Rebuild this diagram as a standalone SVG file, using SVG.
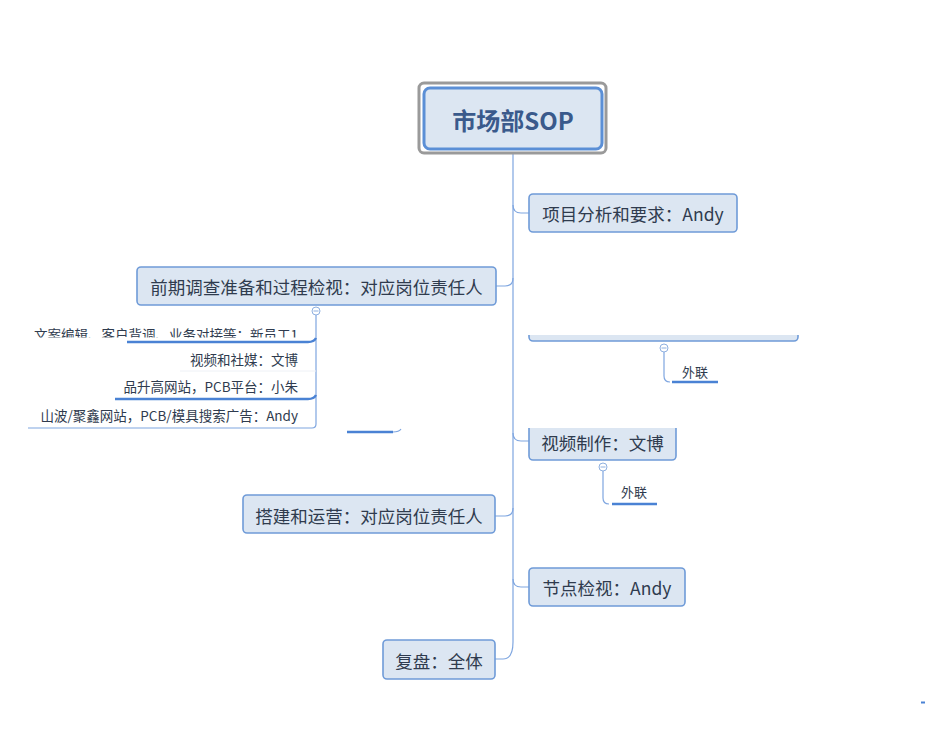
<svg xmlns="http://www.w3.org/2000/svg" width="926" height="752" viewBox="0 0 926 752">
<style>
.node{fill:#dce6f2;stroke:#6f9bd8;stroke-width:1.6}
.t{font-family:"Noto Sans CJK SC","Microsoft YaHei",sans-serif;font-size:17.5px;fill:#2f3b4e;dominant-baseline:central;text-anchor:middle}
.s{font-family:"Noto Sans CJK SC",sans-serif;font-size:13.5px;fill:#2f3b4e;text-anchor:end}
.c{fill:none;stroke:#7fa6e0;stroke-width:1.2}
.u{fill:none;stroke:#4a82d4;stroke-width:2.4}
.col{fill:#fff;stroke:#8fb0e0;stroke-width:1}
</style>
<defs>
<clipPath id="clipRow1"><rect x="0" y="300" width="330" height="37.5"/></clipPath>
<clipPath id="clipBox"><rect x="520" y="335" width="290" height="13"/></clipPath>
<clipPath id="clipVid"><rect x="520" y="428" width="170" height="40"/></clipPath>
</defs>
<rect width="926" height="752" fill="#fff"/>
<g id="connectors">
<path class="c" d="M513 154 V642 Q513 659 503 659 H495"/>
<path class="c" d="M513 205 Q513 213 521 213 H529"/>
<path class="c" d="M513 278 Q513 286 505 286 H496"/>
<path class="c" d="M513 433 Q513 441 521 441 H529"/>
<path class="c" d="M513 508 Q513 516 505 516 H495"/>
<path class="c" d="M513 579 Q513 587 521 587 H529"/>
<path class="c" d="M316 315 V424 Q316 428 312 428 H28"/>
<path class="c" d="M664 352 V376 Q664 382 670 382"/>
<path class="c" d="M603 471 V498 Q603 504 609 504"/>
<path d="M180 371 H316" stroke="#eef1f6" stroke-width="1"/>
<path class="u" d="M127 342 H308 Q314 342 316 338"/>
<path class="u" d="M115 399 H308 Q314 399 316 395"/>
<path class="u" d="M672 382 H718"/>
<path class="u" d="M612 504 H657"/>
<path class="u" d="M347 432 H393"/>
<path class="c" d="M393 432 Q399 432 401 429"/>
<path d="M921 702.5 H925" stroke="#4a82d4" stroke-width="2"/>
</g>
<g id="central">
<rect x="419" y="83" width="187" height="70" rx="5" fill="#fff" stroke="#9a9a9a" stroke-width="3"/>
<rect x="424" y="88" width="178" height="61" rx="6" fill="#dce6f2" stroke="#5b8fd6" stroke-width="3"/>
<text x="513" y="119" style="font-family:'Noto Sans CJK SC',sans-serif;font-size:24px;font-weight:bold;fill:#3a5a8c;dominant-baseline:central;text-anchor:middle">市场部SOP</text>
</g>
<g id="n1"><rect class="node" x="529" y="194" width="208" height="38" rx="4"/><text class="t" x="633" y="213">项目分析和要求：Andy</text></g>
<g id="n2"><rect class="node" x="137" y="267" width="359" height="38" rx="4"/><text class="t" x="316.5" y="286">前期调查准备和过程检视：对应岗位责任人</text>
<circle class="col" cx="316" cy="311" r="4"/><path d="M313.5 311 H318.5" stroke="#8fb0e0" stroke-width="1"/></g>
<g id="n2a" clip-path="url(#clipRow1)"><text class="s" x="298" y="340">文案编辑、客户背调、业务对接等：新员工1</text></g>
<g id="n2b"><text class="s" x="298" y="365">视频和社媒：文博</text></g>
<g id="n2c"><text class="s" x="298" y="392">品升高网站，PCB平台：小朱</text></g>
<g id="n2d"><text class="s" x="298" y="421">山波/聚鑫网站，PCB/模具搜索广告：Andy</text></g>
<g id="n3"><g clip-path="url(#clipBox)"><rect class="node" x="529" y="300" width="269" height="41" rx="4" stroke-width="2"/></g>
<circle class="col" cx="664" cy="348" r="4"/><path d="M661.5 348 H666.5" stroke="#8fb0e0" stroke-width="1"/></g>
<g id="n3a"><text x="695" y="377" style="font-family:'Noto Sans CJK SC',sans-serif;font-size:13px;fill:#2f3b4e;text-anchor:middle">外联</text></g>
<g id="n4"><g clip-path="url(#clipVid)"><rect class="node" x="529" y="422" width="147" height="38" rx="4"/></g><text class="t" x="602.5" y="442">视频制作：文博</text>
<circle class="col" cx="603" cy="467" r="4"/><path d="M600.5 467 H605.5" stroke="#8fb0e0" stroke-width="1"/></g>
<g id="n4a"><text x="634" y="497" style="font-family:'Noto Sans CJK SC',sans-serif;font-size:13px;fill:#2f3b4e;text-anchor:middle">外联</text></g>
<g id="n5"><rect class="node" x="243" y="495" width="252" height="38" rx="4"/><text class="t" x="369" y="515">搭建和运营：对应岗位责任人</text></g>
<g id="n6"><rect class="node" x="529" y="568" width="156" height="38" rx="4"/><text class="t" x="607" y="587">节点检视：Andy</text></g>
<g id="n7"><rect class="node" x="383" y="640" width="112" height="39" rx="4"/><text class="t" x="439" y="660">复盘：全体</text></g>
</svg>
